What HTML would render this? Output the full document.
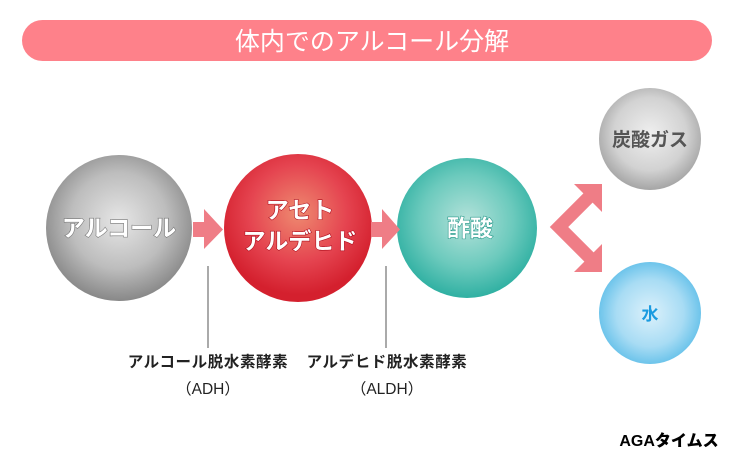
<!DOCTYPE html>
<html><head><meta charset="utf-8"><style>
html,body{margin:0;padding:0;background:#fff;}
svg{display:block;}
text{font-family:"Liberation Sans","Noto Sans CJK JP",sans-serif;}
</style></head><body>
<svg width="744" height="465" viewBox="0 0 744 465" xmlns="http://www.w3.org/2000/svg">
<defs>
<radialGradient id="g1" cx="50%" cy="45%" r="55%"><stop offset="0" stop-color="#e6e6e6"/><stop offset="0.6" stop-color="#bdbdbd"/><stop offset="1" stop-color="#888"/></radialGradient>
<radialGradient id="g2" cx="50%" cy="40%" r="55%"><stop offset="0" stop-color="#ee8a70"/><stop offset="0.6" stop-color="#e54450"/><stop offset="1" stop-color="#d4202e"/></radialGradient>
<radialGradient id="g3" cx="50%" cy="45%" r="55%"><stop offset="0" stop-color="#b4e2da"/><stop offset="0.6" stop-color="#6ccabd"/><stop offset="1" stop-color="#2fb0a2"/></radialGradient>
<radialGradient id="g4" cx="50%" cy="45%" r="55%"><stop offset="0" stop-color="#efefef"/><stop offset="0.65" stop-color="#d2d2d2"/><stop offset="1" stop-color="#a5a5a5"/></radialGradient>
<radialGradient id="g5" cx="50%" cy="50%" r="55%"><stop offset="0" stop-color="#dcf1fb"/><stop offset="0.6" stop-color="#a8dcf4"/><stop offset="1" stop-color="#5cbde8"/></radialGradient>
</defs>
<rect x="22" y="20" width="690" height="41" rx="20.5" fill="#fe818a"/>
<text x="372" y="50" text-anchor="middle" font-size="25" fill="#fff">体内でのアルコール分解</text>

<circle cx="119" cy="228" r="73" fill="url(#g1)"/>
<circle cx="298" cy="228" r="74" fill="url(#g2)"/>
<circle cx="467" cy="228" r="70" fill="url(#g3)"/>
<circle cx="650" cy="139" r="51" fill="url(#g4)"/>
<circle cx="650" cy="313" r="51" fill="url(#g5)"/>

<g font-size="23" font-weight="bold" fill="#fff" stroke-width="1.2" paint-order="stroke">
<text x="119" y="236" text-anchor="middle" stroke="#777">アルコール</text>
<text x="300" y="218" text-anchor="middle" stroke="#b01020">アセト</text>
<text x="300" y="249" text-anchor="middle" stroke="#b01020">アルデヒド</text>
<text x="470" y="236" text-anchor="middle" stroke="#2a9a8c">酢酸</text>
</g>
<text x="650" y="146" text-anchor="middle" font-size="19" font-weight="bold" fill="#555">炭酸ガス</text>
<text x="650" y="320" text-anchor="middle" font-size="17" font-weight="bold" fill="#1a9be0">水</text>

<g fill="#ef7d86">
<rect x="193" y="222" width="14" height="15"/><polygon points="204,209 223,229.5 204,249"/>
<rect x="371" y="222" width="14" height="15"/><polygon points="382,209 400,229.5 382,249"/>
<polygon points="574,184 602,184 602,212"/>
<polygon points="574,272 602,272 602,244"/>
</g>
<polyline points="593,193 559,227 593,261" fill="none" stroke="#ef7d86" stroke-width="13" stroke-linejoin="miter"/>

<line x1="208" y1="266" x2="208" y2="348" stroke="#555" stroke-width="1"/>
<line x1="386" y1="266" x2="386" y2="348" stroke="#555" stroke-width="1"/>
<g font-size="15.5" fill="#222">
<text x="208" y="367" text-anchor="middle" font-weight="bold" letter-spacing="0.6">アルコール脱水素酵素</text>
<text x="387" y="367" text-anchor="middle" font-weight="bold" letter-spacing="0.6">アルデヒド脱水素酵素</text>
<text x="208" y="394" text-anchor="middle">（ADH）</text>
<text x="387" y="394" text-anchor="middle">（ALDH）</text>
</g>
<text x="669" y="446" text-anchor="middle" font-size="16" font-weight="900" fill="#000">AGAタイムス</text>
</svg>
</body></html>
